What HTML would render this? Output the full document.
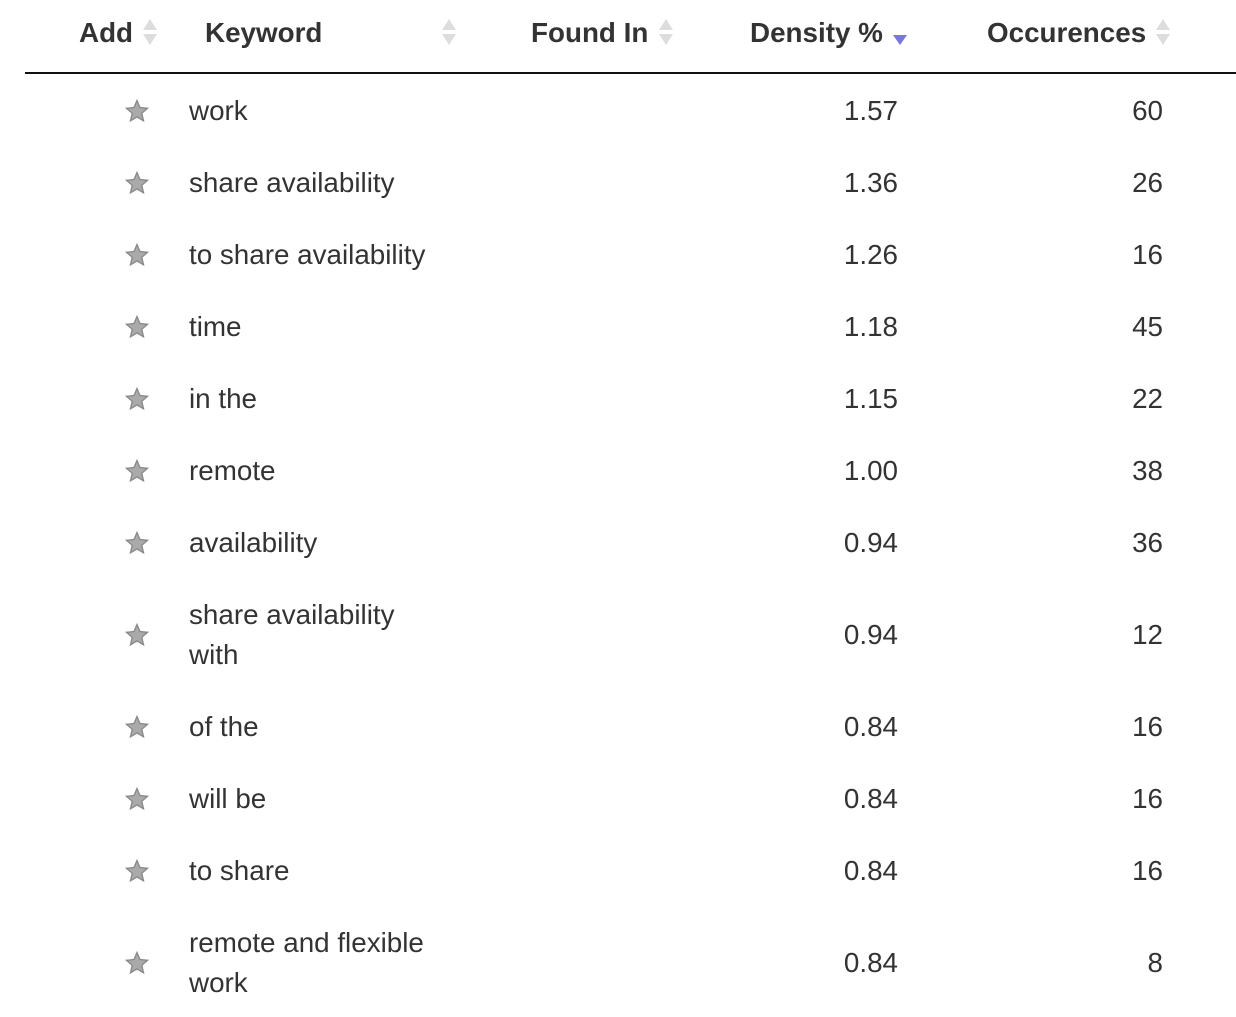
<!DOCTYPE html>
<html><head><meta charset="utf-8"><style>
body{margin:0;width:1236px;height:1017px;background:#fff;position:relative;font-family:"Liberation Sans",Arial,sans-serif;overflow:hidden}
.h{position:absolute;top:16px;font-weight:bold;font-size:27.8px;color:#333;line-height:34px}
.t{position:absolute;font-size:27.8px;color:#333;line-height:40px}
.r{text-align:right}
.s{position:absolute;left:125px;width:24px;height:24px}
.so{position:absolute;width:16px;height:30px;top:17px}
</style></head><body>
<div class="h" style="left:79px">Add</div>
<div class="h" style="left:205px">Keyword</div>
<div class="h" style="left:531px">Found In</div>
<div class="h" style="left:750px">Density %</div>
<div class="h" style="left:987px">Occurences</div>
<svg class="so" style="left:142px" viewBox="0 0 16 30"><path d="M8 2L15 13H1Z M8 28L15 17H1Z" fill="#ddd"/></svg>
<svg class="so" style="left:441px" viewBox="0 0 16 30"><path d="M8 2L15 13H1Z M8 28L15 17H1Z" fill="#ddd"/></svg>
<svg class="so" style="left:658px" viewBox="0 0 16 30"><path d="M8 2L15 13H1Z M8 28L15 17H1Z" fill="#ddd"/></svg>
<svg class="so" style="left:1155px" viewBox="0 0 16 30"><path d="M8 2L15 13H1Z M8 28L15 17H1Z" fill="#ddd"/></svg>
<svg style="position:absolute;left:892px;top:34px" width="16" height="12" viewBox="0 0 16 12"><path d="M1 1H15L8 11Z" fill="#7777dd"/></svg>
<div style="position:absolute;left:25px;top:72px;width:1211px;height:2px;background:#111"></div>
<div id="rows"></div>
<script>
var d=[[111,"work","1.57","60"],[183,"share availability","1.36","26"],[255,"to share availability","1.26","16"],[327,"time","1.18","45"],[399,"in the","1.15","22"],[471,"remote","1.00","38"],[543,"availability","0.94","36"],[635,"share availability<br>with","0.94","12"],[727,"of the","0.84","16"],[799,"will be","0.84","16"],[871,"to share","0.84","16"],[963,"remote and flexible<br>work","0.84","8"]];
var h="";d.forEach(function(r){var y=r[0],two=r[1].indexOf("<br>")>0;
h+='<svg class="s" style="top:'+(y-12)+'px" viewBox="0 0 24 24"><polygon points="12,1.5 15,8.5 22.5,9.3 16.8,14.3 18.5,21.8 12,17.9 5.5,21.8 7.2,14.3 1.5,9.3 9,8.5" fill="#aaa" stroke="#888" stroke-width="1.3"/></svg>';
h+='<div class="t" style="left:189px;top:'+(y-(two?40:20))+'px">'+r[1]+'</div>';
h+='<div class="t r" style="left:700px;width:198px;top:'+(y-20)+'px">'+r[2]+'</div>';
h+='<div class="t r" style="left:1000px;width:163px;top:'+(y-20)+'px">'+r[3]+'</div>';});
document.getElementById("rows").innerHTML=h;
</script>
</body></html>
